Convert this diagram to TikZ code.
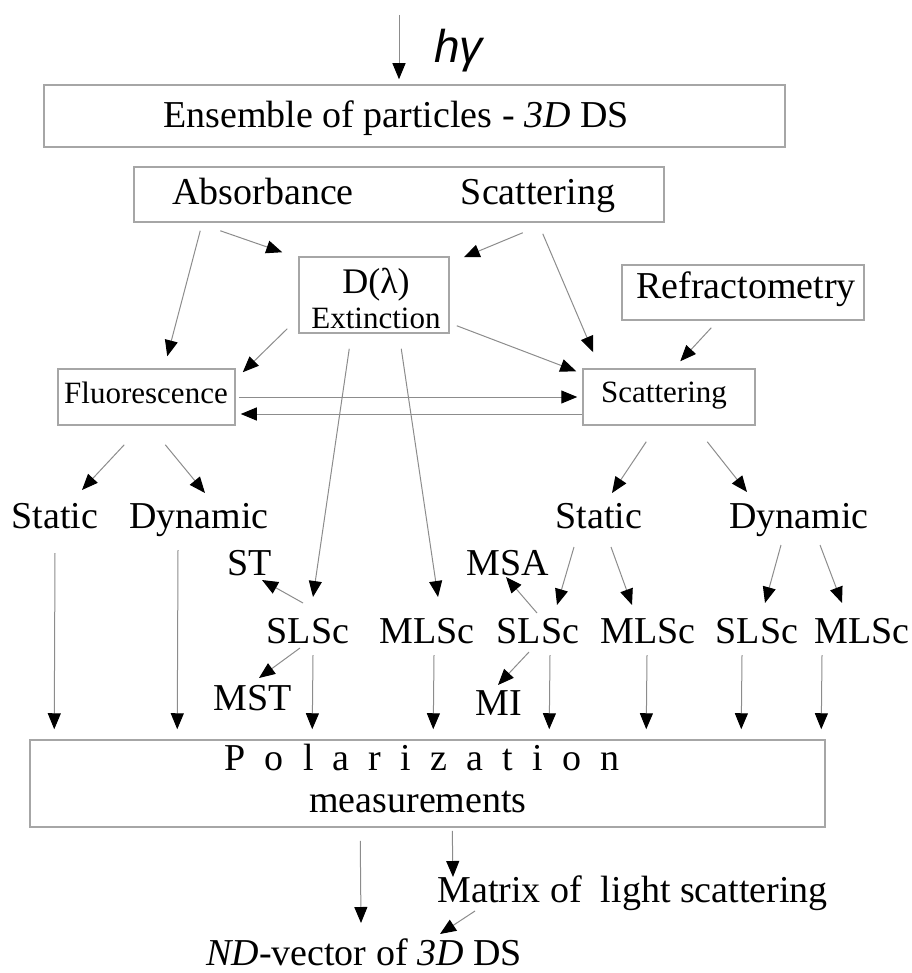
\documentclass[tikz,border=0pt]{standalone}
\usepackage{fontspec}
\setmainfont{Liberation Serif}
\setsansfont{Liberation Sans}
\usetikzlibrary{arrows.meta,calc,fit}
\tikzset{
  box/.style={draw=black!35, line width=0.75pt, inner sep=0pt},
  lbl/.style={inner sep=0pt, anchor=base, font=\fontsize{19}{22}\selectfont},
  smalllbl/.style={lbl, font=\fontsize{15.5}{18}\selectfont},
  arr/.style={draw=black!45, line width=0.5pt, -{Triangle[length=8pt,width=6.5pt,color=black]}}
}
\begin{document}
\begin{tikzpicture}[x=0.5pt,y=-0.5pt]
\useasboundingbox (0,0) rectangle (911,973);
% boxes
\node[box, fit={(44,85) (785,147)}] (ens) {};
\node[box, fit={(134,167) (664,222)}] (absc) {};
\node[box, fit={(299,257) (449,333)}] (dext) {};
\node[box, fit={(622,265) (864,320)}] (refr) {};
\node[box, fit={(58,369) (235,425)}] (fluor) {};
\node[box, fit={(583,369) (755,425)}] (scat) {};
\node[box, fit={(30,740) (825,827)}] (pol) {};
% texts
\node[lbl, anchor=base west, font=\fontsize{23}{26}\selectfont\sffamily\itshape] (hg) at (434,63) {hγ};
\node[lbl] (enstxt) at (396,128) {Ensemble of particles - \textit{3D} DS};
\node[lbl] (abstxt) at (263,205) {Absorbance};
\node[lbl] (scattxt) at (538,205) {Scattering};
\node[lbl, font=\fontsize{18}{20}\selectfont] (dtxt) at (376,293) {D(λ)};
\node[smalllbl] (exttxt) at (376,328) {Extinction};
\node[lbl] (refrtxt) at (746,298) {Refractometry};
\node[smalllbl] (fluortxt) at (146,403) {Fluorescence};
\node[smalllbl] (scattxtb) at (664,402) {Scattering};
\node[lbl] (statL) at (55,528) {Static};
\node[lbl] (dynL) at (199,528) {Dynamic};
\node[lbl] (statR) at (599,528) {Static};
\node[lbl] (dynR) at (799,528) {Dynamic};
\node[lbl] (st) at (250,575) {ST};
\node[lbl] (msa) at (508,575) {MSA};
\node[lbl] (sl1) at (308,643) {SLSc};
\node[lbl] (ml1) at (427,643) {MLSc};
\node[lbl] (sl2) at (538,643) {SLSc};
\node[lbl] (ml2) at (648,643) {MLSc};
\node[lbl] (sl3) at (757,643) {SLSc};
\node[lbl] (ml3) at (862,643) {MLSc};
\node[lbl] (mst) at (253,710) {MST};
\node[lbl] (mi) at (499,715) {MI};
\node[lbl] (poltxt) at (422,770) {\spaceskip=9.6pt P o l a r i z a t i o n};
\node[lbl] (meas) at (418,812) {measurements};
\node[lbl, anchor=base west] (mat) at (437,902) {Matrix of\ \ light scattering};
\node[lbl] (nd) at (364,965) {\textit{ND}-vector of \textit{3D} DS};
% incoming light
\coordinate (lightin) at (399,15);
\draw[arr, shorten >=2.5pt] (lightin) -- (lightin |- ens.north);
% absorbance / scattering
\draw[arr] ($(absc.south west)+(67,8)$) -- ($(fluor.north west)+(110,-12)$);
\draw[arr] ($(absc.south west)+(87,8)$) -- ($(dext.north west)+(-16,-4)$);
\draw[arr] ($(absc.south east)+(-142,10)$) -- ($(dext.north east)+(14,1)$);
\draw[arr] ($(absc.south east)+(-122,11)$) -- ($(scat.north west)+(11,-16)$);
% extinction
\draw[arr] ($(dext.south west)+(-11,-5)$) -- ($(fluor.north east)+(7,4)$);
\draw[arr] ($(dext.south east)+(7,-8)$) -- ($(scat.north west)+(-6,3)$);
\draw[arr] ($(dext.south west)+(51,15)$) -- ($(sl1.base)+(5,-46)$);
\draw[arr] ($(dext.south west)+(103,15)$) -- ($(ml1.base)+(11,-46)$);
\draw[arr] ($(refr.south west)+(90,7)$) -- ($(scat.north west)+(98,-7)$);
% fluorescence <-> scattering
\draw[arr] ($(fluor.east)+(3,0)$) -- ($(scat.west)+(-5,0)$);
\draw[arr] ($(scat.west)+(0,17)$) -- ($(fluor.east)+(5,17)$);
% static / dynamic
\draw[arr] ($(fluor.south west)+(67,19)$) -- ($(statL.base)+(27,-38)$);
\draw[arr] ($(fluor.south west)+(108,19)$) -- ($(dynL.base)+(6,-35)$);
\draw[arr] ($(scat.south west)+(64,16)$) -- ($(statR.base)+(13,-35)$);
\draw[arr] ($(scat.south west)+(125,16)$) -- ($(dynR.base)+(-52,-36)$);
\draw[arr] ($(statR.base)+(-25,19)$) -- ($(sl2.base)+(19,-38)$);
\draw[arr] ($(statR.base)+(12,19)$) -- ($(ml2.base)+(-16,-38)$);
\draw[arr] ($(dynR.base)+(-18,17)$) -- ($(sl3.base)+(8,-40)$);
\draw[arr] ($(dynR.base)+(21,17)$) -- ($(ml3.base)+(-20,-40)$);
% SLSc side branches
\draw[arr] ($(sl1.base)+(-5,-40)$) -- ($(st.base)+(12,5)$);
\draw[arr] ($(sl2.base)+(-1,-30)$) -- ($(msa.base)+(-2,2)$);
\draw[arr] ($(sl1.base)+(-8,5)$) -- ($(mst.base)+(6,-32)$);
\draw[arr] ($(sl2.base)+(-9,9)$) -- ($(mi.base)+(-1,-30)$);
% into polarization
\draw[arr] ($(statL.base)+(0,25)$) -- ($(pol.north west)+(25,-10)$);
\draw[arr] ($(dynL.base)+(-21,22)$) -- ($(pol.north west)+(148,-10)$);
\draw[arr] ($(sl1.base)+(5,12)$) -- ($(pol.north west)+(283,-10)$);
\draw[arr] ($(ml1.base)+(7,12)$) -- ($(pol.north west)+(404,-10)$);
\draw[arr] ($(sl2.base)+(12,12)$) -- ($(pol.north west)+(520,-10)$);
\draw[arr] ($(ml2.base)+(-1,12)$) -- ($(pol.north west)+(617,-10)$);
\draw[arr] ($(sl3.base)+(-15,12)$) -- ($(pol.north west)+(712,-10)$);
\draw[arr] ($(ml3.base)+(-40,12)$) -- ($(pol.north west)+(792,-10)$);
% results
\draw[arr] ($(pol.south west)+(331,13)$) -- ($(nd.base)+(-3,-42)$);
\draw[arr] ($(pol.south west)+(423,3)$) -- ($(mat.base west)+(16,-25)$);
\draw[arr] ($(mat.base west)+(38,9)$) -- ($(nd.base)+(76,-31)$);
\end{tikzpicture}
\end{document}
